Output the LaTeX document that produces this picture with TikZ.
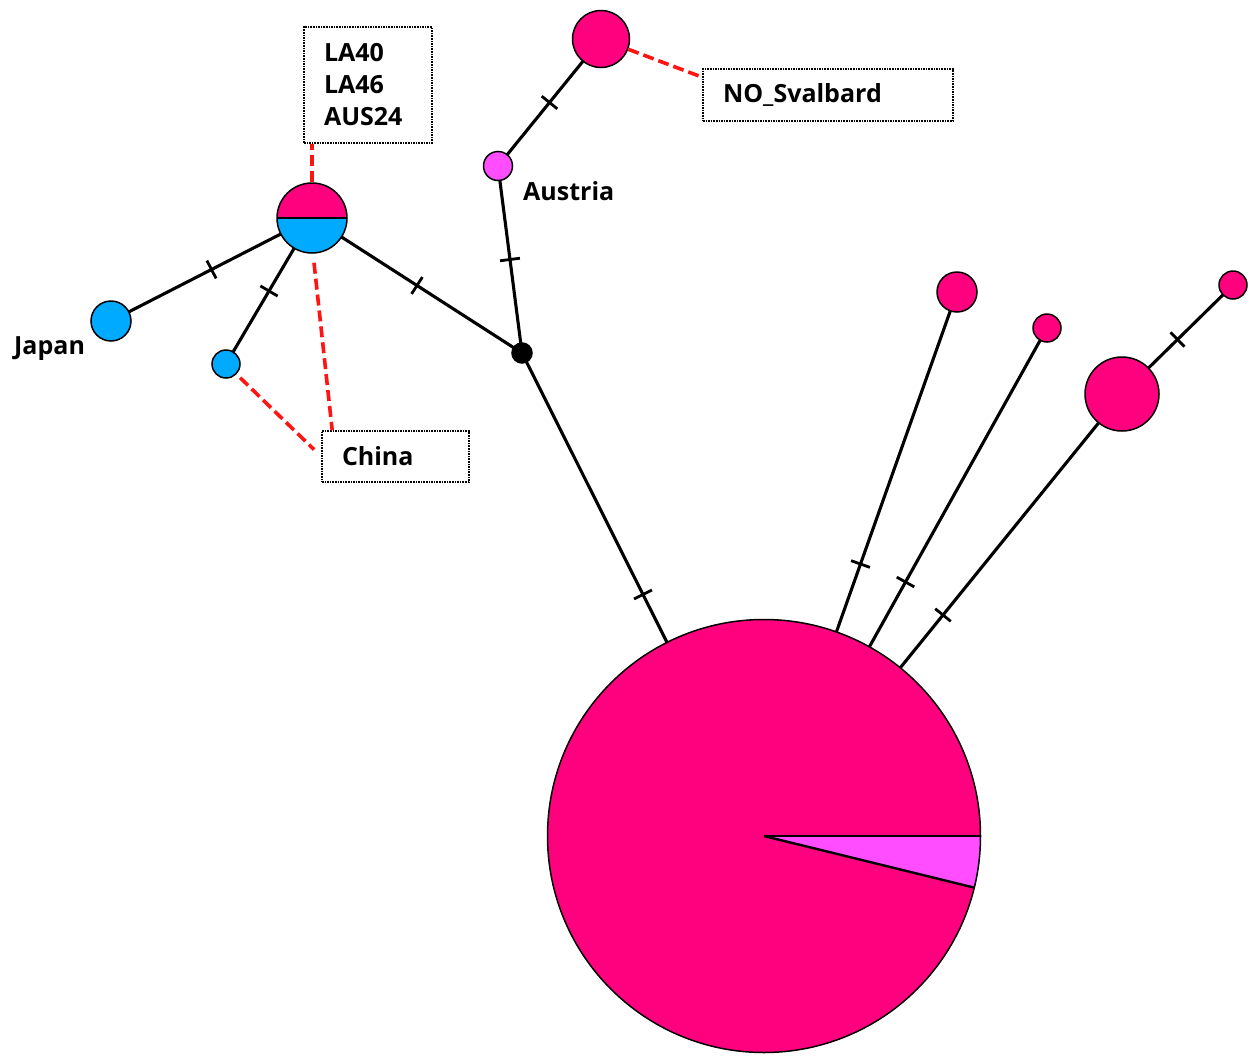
\documentclass[tikz,border=0pt]{standalone}
\usepackage{fontspec}
\setmainfont{Open Sans}
\usetikzlibrary{backgrounds,decorations.markings,calc}
\definecolor{hpink}{RGB}{255,0,127}
\definecolor{hblue}{RGB}{0,170,255}
\definecolor{hviolet}{RGB}{255,77,255}
\definecolor{hred}{RGB}{255,20,20}
\tikzset{
  hap/.style={circle, draw=black, line width=1.5pt, inner sep=0pt, minimum size=#1},
  edge/.style={line width=3.1pt, black, postaction={decorate, decoration={markings,
      mark=at position 0.5 with {\draw[line width=2.8pt] (0,-10pt) -- (0,10pt);}}}},
  reddash/.style={hred, line width=3.6pt, dash pattern=on 11pt off 5pt},
  lbox/.style={draw=black, densely dotted, line width=1.6pt, inner xsep=20pt, inner ysep=0pt,
      align=left, font=\bfseries\fontsize{25}{32}\selectfont},
  lbl/.style={inner sep=0pt, anchor=base west, font=\bfseries\fontsize{25}{32}\selectfont}
}
\begin{document}
\begin{tikzpicture}[x=1pt, y=-1pt]
\useasboundingbox (0,0) rectangle (1250,1055);

% haplotype nodes
\node[hap=433pt, fill=hpink, path picture={
   \fill[hviolet] (path picture bounding box.center) -- ++(0:230pt)
      arc[start angle=0, end angle=-13.8, radius=230pt] -- cycle;
   \draw[line width=2.4pt] (path picture bounding box.center) -- ++(0:230pt);
   \draw[line width=2.4pt] (path picture bounding box.center) -- ++(-13.8:230pt);
 }] (pie) at (764,836) {};
\node[hap=70pt, path picture={
   \fill[hpink] (path picture bounding box.north west) rectangle (path picture bounding box.east);
   \fill[hblue] (path picture bounding box.west) rectangle (path picture bounding box.south east);
   \draw[line width=2pt] (path picture bounding box.west) -- (path picture bounding box.east);
 }] (la) at (312,218) {};
\node[hap=40pt, fill=hblue] (japan) at (111,321) {};
\node[hap=28pt, fill=hblue] (china) at (226,364) {};
\node[hap=20pt, fill=black] (mv) at (522,353) {};
\node[hap=29pt, fill=hviolet] (austria) at (498,166) {};
\node[hap=57pt, fill=hpink] (svalbard) at (601,39) {};
\node[hap=40pt, fill=hpink] (ra) at (957,292) {};
\node[hap=28pt, fill=hpink] (rb) at (1047,328) {};
\node[hap=74pt, fill=hpink] (rc) at (1122,394) {};
\node[hap=28pt, fill=hpink] (rd) at (1233,285) {};

% edges
\begin{scope}[on background layer]
\fill[white] (0,0) rectangle (1250,1055);
\draw[edge] (la.center) -- (japan.center);
\draw[edge] (la.center) -- (china.center);
\draw[edge] (la.center) -- (mv.center);
\draw[edge] (mv.center) -- (austria.center);
\draw[edge] (austria.center) -- (svalbard.center);
\draw[edge] (mv.center) -- (pie.center);
\draw[edge] (pie.center) -- (ra.center);
\draw[edge] (pie.center) -- (rb.center);
\draw[edge] (pie.center) -- (rc.center);
\draw[edge] (rc.center) -- (rd.center);
\end{scope}

% labels
\node[lbl] (tjapan) at (14,354) {Japan};
\node[lbl] (taustria) at (523,200) {Austria};

% label boxes
\node[lbox, text width=88pt, minimum height=116pt] (labox) at (368,85) {LA40\\LA46\\AUS24};
\node[lbox, text width=107pt, minimum height=51pt] (chinabox) at (395.5,456.5) {China};
\node[lbox, text width=210pt, minimum height=52pt] (nobox) at (828,95) {NO\_Svalbard};

% red dashed leaders
\draw[reddash] (la.north) -- (la.north |- labox.south);
\draw[reddash] ($(la.south)+(2,9)$) -- ($(chinabox.north west)+(11,0)$);
\draw[reddash, shorten <=5pt, shorten >=10pt] (china) -- (chinabox.west);
\draw[reddash] (svalbard) -- ($(nobox.north west)+(0,9)$);
\end{tikzpicture}
\end{document}
